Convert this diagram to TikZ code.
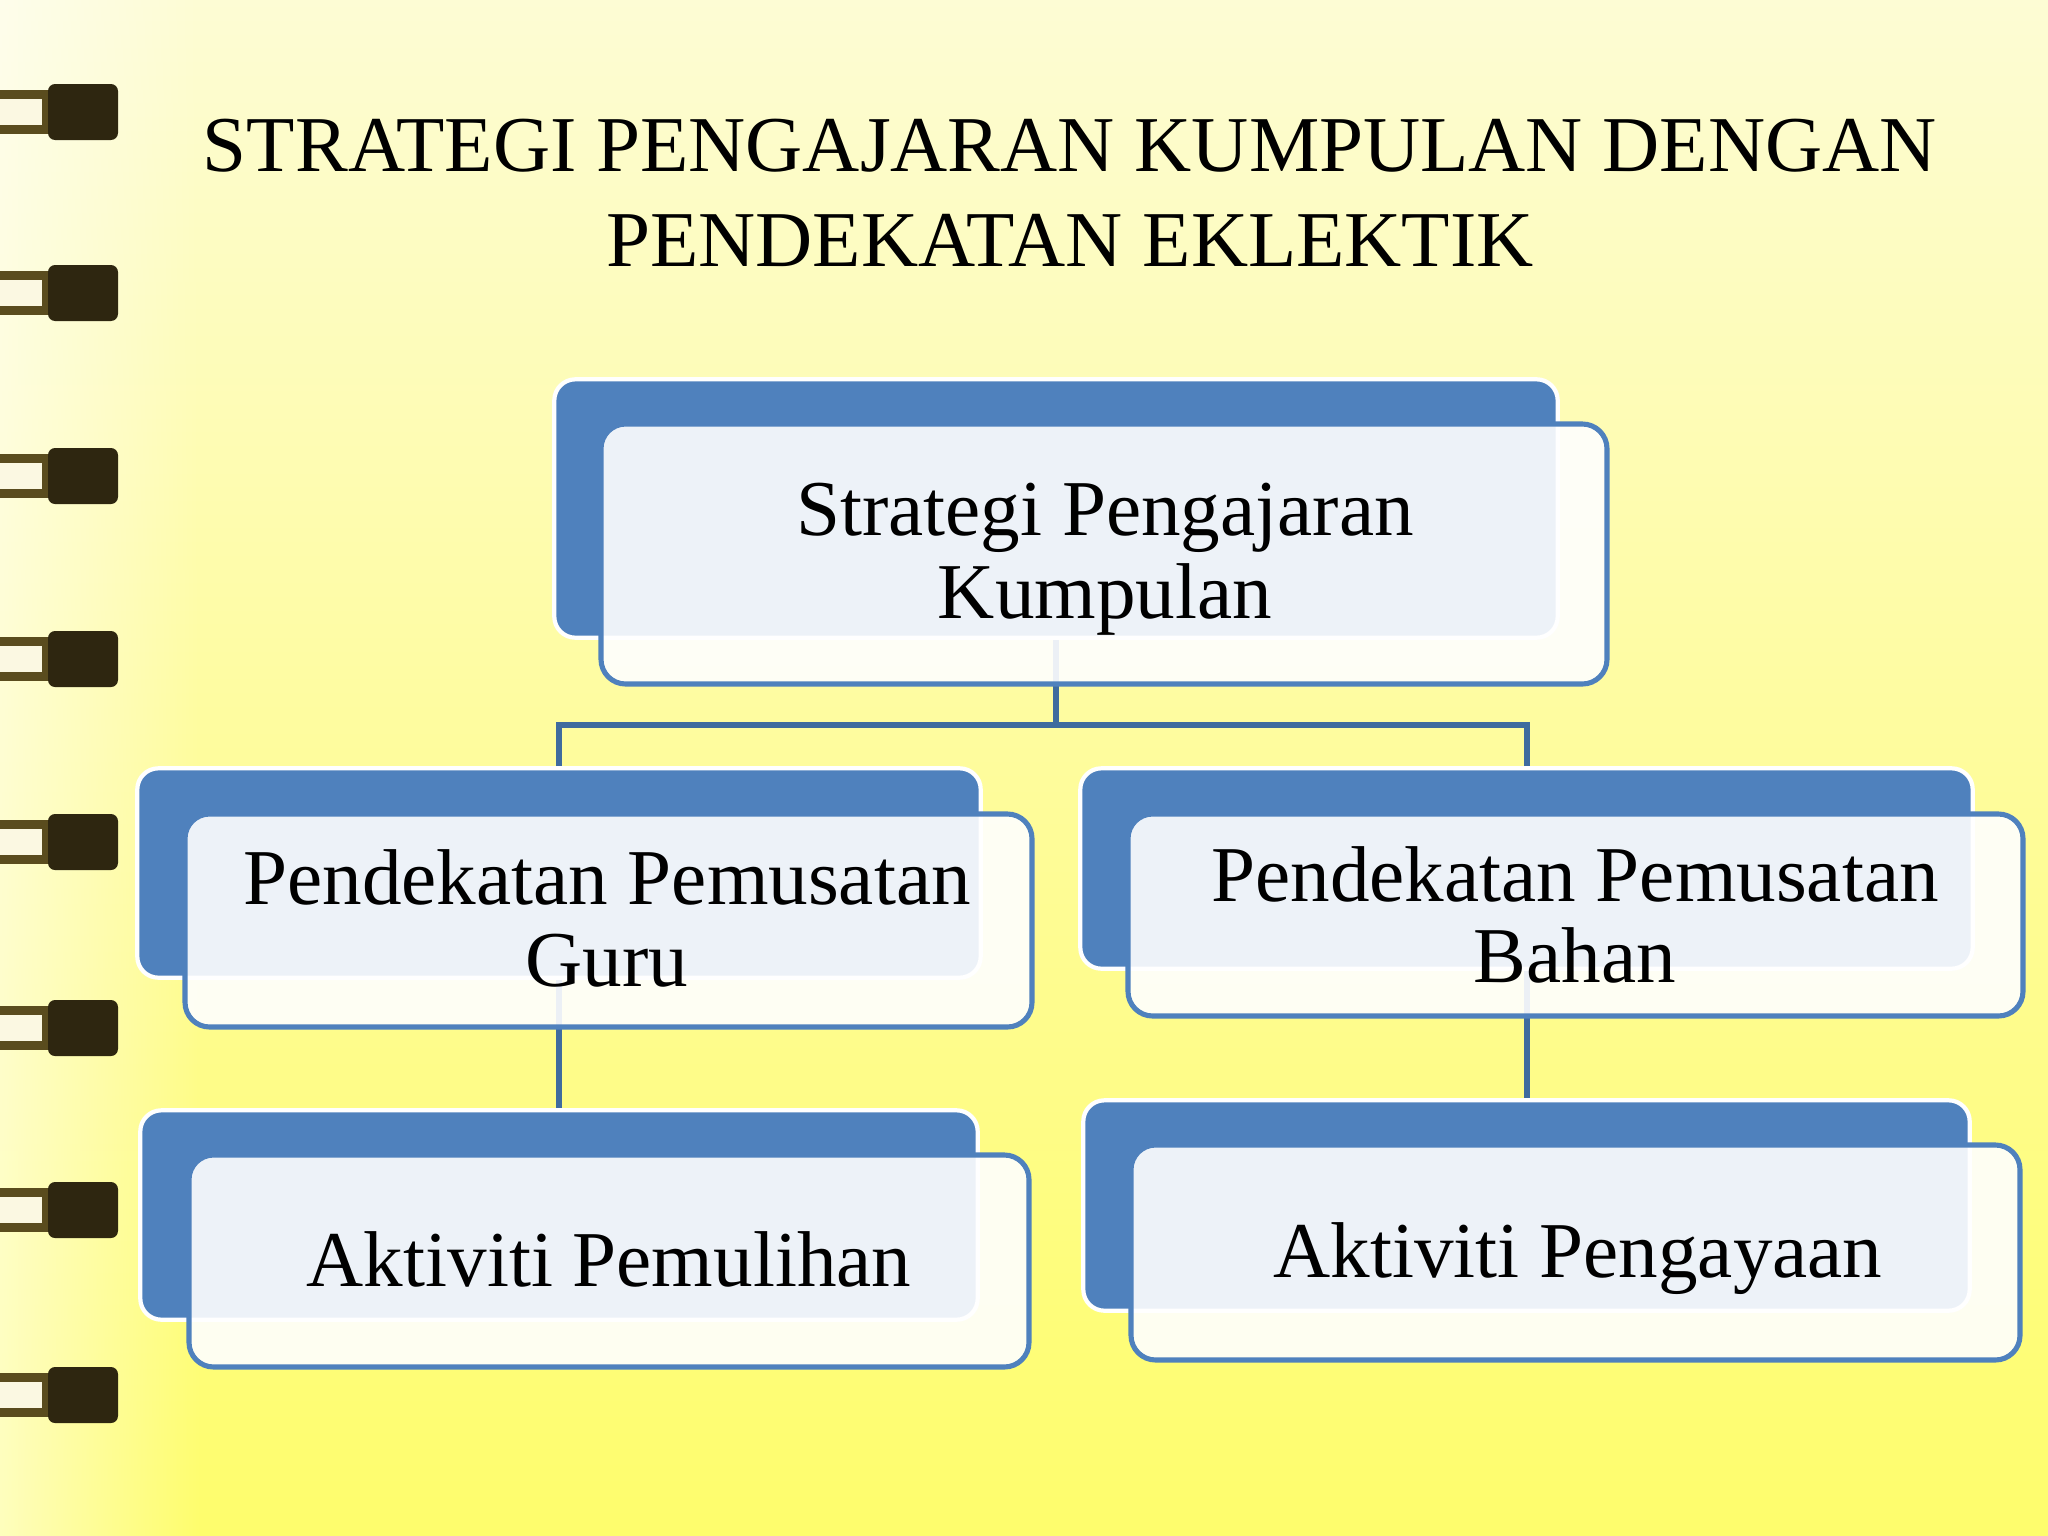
\documentclass[tikz,border=0pt]{standalone}
\usepackage{fontspec}
\setmainfont{Liberation Serif}
\usetikzlibrary{fit,fadings}
\definecolor{bgtop}{HTML}{FDFCD4}
\definecolor{bgmid}{HTML}{FEFC9C}
\definecolor{bgbot}{HTML}{FEFD6C}
\definecolor{boxblue}{HTML}{4F81BD}
\definecolor{connblue}{HTML}{3F6B9E}
\definecolor{ringdark}{HTML}{2E2610}
\definecolor{ringmid}{HTML}{5A4C1E}
\definecolor{ringlight}{HTML}{FBF8E2}
\tikzset{
  backbox/.style={fill=boxblue, draw=white, line width=1.2pt, rounded corners=6pt, inner sep=0pt},
  frontbox/.style={fill=white, fill opacity=0.9, draw=boxblue, draw opacity=1, line width=1.45pt, rounded corners=7pt, inner sep=0pt},
  conn/.style={draw=connblue, line width=1.7pt},
  lbl/.style={anchor=base, inner sep=0pt, font=\fontsize{22.5pt}{23pt}\selectfont, text=black},
}
\begin{document}
\begin{tikzpicture}[x=0.01cm, y=-0.01cm]
\useasboundingbox (0,0) rectangle (2048,1536);
% background
\shade[top color=bgtop, bottom color=bgbot, middle color=bgmid] (0,0) rectangle (2048,1536);
\fill[white, opacity=0.55, path fading=east] (0,0) rectangle (200,1536);
% spiral rings
\foreach \c/\n in {112/1,293/2,476/3,659/4,842/5,1028/6,1210/7,1395/8}{
  \fill[ringmid] (0,\c-22) rectangle (62,\c+22);
  \fill[ringlight] (0,\c-13) rectangle (42,\c+13);
  \fill[ringdark, rounded corners=2pt] (48,\c-28) rectangle (118,\c+28);
}
% title
\node[lbl] (title1) at (1070,171) {STRATEGI PENGAJARAN KUMPULAN DENGAN};
\node[lbl] (title2) at (1070,266) {PENDEKATAN EKLEKTIK};
% back boxes
\coordinate (b1nw) at (555,380); \coordinate (b1se) at (1557,637);
\coordinate (b2nw) at (138,769); \coordinate (b2se) at (980,977);
\coordinate (b3nw) at (1081,769); \coordinate (b3se) at (1972,968);
\coordinate (b4nw) at (141,1111); \coordinate (b4se) at (977,1319);
\coordinate (b5nw) at (1084,1101); \coordinate (b5se) at (1969,1310);
\path node[fit={(b1nw)(b1se)}, inner sep=0pt] (b1) {}
      node[fit={(b2nw)(b2se)}, inner sep=0pt] (b2) {}
      node[fit={(b3nw)(b3se)}, inner sep=0pt] (b3) {}
      node[fit={(b4nw)(b4se)}, inner sep=0pt] (b4) {}
      node[fit={(b5nw)(b5se)}, inner sep=0pt] (b5) {};
% connectors
\coordinate (j) at (b1.south |- 0,725);
\draw[conn] (b1.south) -- (j);
\draw[conn] (j) -| (b2.north);
\draw[conn] (j) -| (b3.north);
\draw[conn] (b2.south) -- (b4.north);
\draw[conn] (b3.south) -- (b5.north);
% draw boxes
\foreach \b in {b1,b2,b3,b4,b5}{
  \draw[backbox] (\b.north west) rectangle (\b.south east);
}
\node[frontbox, fit={(601,424)(1607,684)}] (f1) {};
\node[frontbox, fit={(185,814)(1032,1027)}] (f2) {};
\node[frontbox, fit={(1128,814)(2023,1016)}] (f3) {};
\node[frontbox, fit={(189,1155)(1029,1367)}] (f4) {};
\node[frontbox, fit={(1131,1145)(2020,1360)}] (f5) {};
% texts
\node[lbl] (t1a) at (1105,535) {Strategi Pengajaran};
\node[lbl] (t1b) at (1105,618) {Kumpulan};
\node[lbl] (t2a) at (607,904) {Pendekatan Pemusatan};
\node[lbl] (t2b) at (607,986) {Guru};
\node[lbl] (t3a) at (1575,901) {Pendekatan Pemusatan};
\node[lbl] (t3b) at (1575,982) {Bahan};
\node[lbl] (t4) at (609,1286) {Aktiviti Pemulihan};
\node[lbl] (t5) at (1578,1277) {Aktiviti Pengayaan};
\end{tikzpicture}
\end{document}
